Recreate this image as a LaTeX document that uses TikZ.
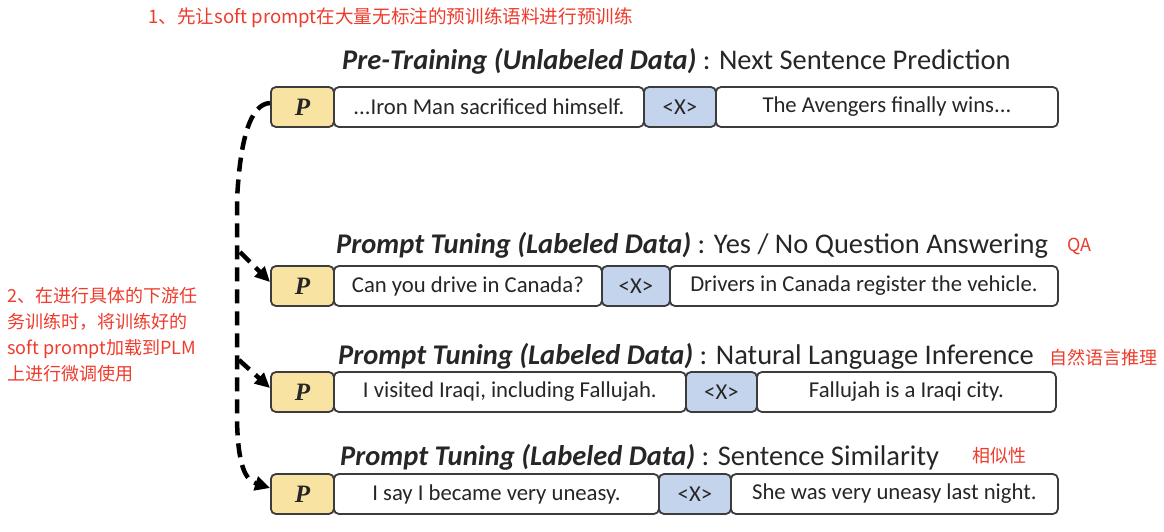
\documentclass[tikz,border=0pt]{standalone}
\usepackage{fontspec}
\setmainfont{Carlito}
\newfontfamily\cjk{Noto Sans CJK SC}
\newfontfamily\tnr{Liberation Serif}
\usetikzlibrary{arrows.meta}
\definecolor{pyellow}{HTML}{F8E3A3}
\definecolor{xblue}{HTML}{C3D4EC}
\definecolor{bord}{HTML}{3C3C3C}
\definecolor{note}{HTML}{EE3B2B}
\begin{document}
\begin{tikzpicture}[x=1pt,y=-1pt,
  box/.style={draw=bord,line width=1.8pt,rounded corners=5pt,minimum height=40pt,inner sep=0pt,anchor=west,text=black!85,font=\fontsize{22.7}{26}\selectfont},
  pbox/.style={box,fill=pyellow,minimum width=63pt,font=\fontsize{25}{26}\selectfont\tnr\bfseries\itshape},
  xbox/.style={box,fill=xblue},
  tbox/.style={box,fill=white},
  ttl/.style={anchor=west,inner sep=0pt,text=black!85,font=\fontsize{28.5}{32}\selectfont},
  red/.style={text=note,inner sep=0pt,font=\fontsize{18}{26}\selectfont\cjk},
  dashlink/.style={line width=4.5pt,dash pattern=on 14pt off 8pt,-{Triangle[length=15pt,width=14pt]}}
]
\useasboundingbox (0,0) rectangle (1164,531);

\node[red,anchor=west,font=\fontsize{18.6}{26}\selectfont\cjk] (n1) at (148,18) {1、先让soft prompt在大量无标注的预训练语料进行预训练};
\node[red,anchor=north west,align=left] (n2) at (7,287) {2、在进行具体的下游任\\务训练时，将训练好的\\soft prompt加载到PLM\\上进行微调使用};

% row 1
\node[ttl] (t1) at (342,61) {\textbf{\textit{Pre-Training (Unlabeled Data)}} : Next Sentence Prediction};
\node[pbox] (p1) at (270,107) {P};
\node[tbox,minimum width=310pt] (a1) at (333,107) {...Iron Man sacrificed himself.};
\node[xbox,minimum width=72pt] (x1) at (643,107) {<X>};
\node[tbox,minimum width=342pt] (b1) at (715,107) {The Avengers finally wins...};

% row 2
\node[ttl] (t2) at (336,245) {\textbf{\textit{Prompt Tuning (Labeled Data)}} : Yes / No Question Answering};
\node[red,anchor=west] (q2) at (1067,246) {QA};
\node[pbox] (p2) at (270,286) {P};
\node[tbox,minimum width=268pt] (a2) at (333,286) {Can you drive in Canada?};
\node[xbox,minimum width=68pt] (x2) at (601,286) {<X>};
\node[tbox,minimum width=388pt] (b2) at (669,286) {Drivers in Canada register the vehicle.};

% row 3
\node[ttl] (t3) at (338,356) {\textbf{\textit{Prompt Tuning (Labeled Data)}} : Natural Language Inference};
\node[red,anchor=west] (q3) at (1049,358) {自然语言推理};
\node[pbox] (p3) at (270,392) {P};
\node[tbox,minimum width=352pt] (a3) at (333,392) {I visited Iraqi, including Fallujah.};
\node[xbox,minimum width=71pt] (x3) at (685,392) {<X>};
\node[tbox,minimum width=299pt] (b3) at (756,392) {Fallujah is a Iraqi city.};

% row 4
\node[ttl] (t4) at (340,457) {\textbf{\textit{Prompt Tuning (Labeled Data)}} : Sentence Similarity};
\node[red,anchor=west] (q4) at (972,456) {相似性};
\node[pbox] (p4) at (270,494) {P};
\node[tbox,minimum width=325pt] (a4) at (333,494) {I say I became very uneasy.};
\node[xbox,minimum width=72pt] (x4) at (658,494) {<X>};
\node[tbox,minimum width=327pt] (b4) at (730,494) {She was very uneasy last night.};

% dashed connectors
\coordinate (s2) at (240,252);
\coordinate (s3) at (239,360);
\draw[dashlink] ([yshift=4pt]p1.west) .. controls (250,104) and (240,140) .. (237,200)
  -- (237,420) .. controls (238,465) and (245,480) .. ([yshift=6pt]p4.west);
\draw[dashlink] (s2) -- ([yshift=4pt]p2.west);
\draw[dashlink] (s3) -- ([yshift=4pt]p3.west);
\end{tikzpicture}
\end{document}
